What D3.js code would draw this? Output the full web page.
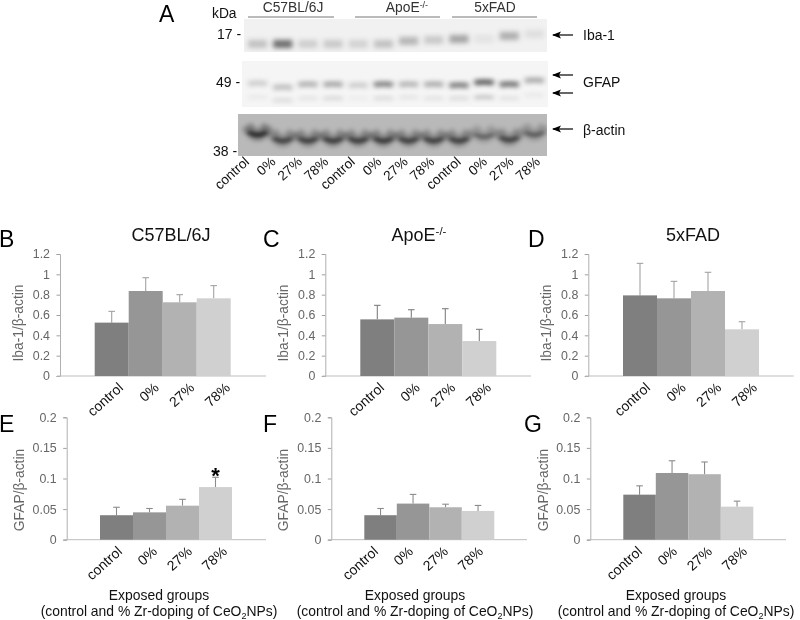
<!DOCTYPE html>
<html><head><meta charset="utf-8">
<script src="https://cdnjs.cloudflare.com/ajax/libs/d3/7.8.5/d3.min.js"></script>
<style>
html,body{margin:0;padding:0;background:#fff}
svg{display:block;font-family:"Liberation Sans",Arial,sans-serif;filter:blur(0.4px)}
</style></head><body>
<svg id="c" width="800" height="620"></svg>
<script>
// ---- data ----
const groups = ["control","0%","27%","78%"];
const ibaTicks = [0,0.2,0.4,0.6,0.8,1,1.2];
const gfapTicks = [0,0.05,0.1,0.15,0.2];

const ibaC57 = [0.525,0.836,0.725,0.764];
const ibaC57Err = [0.636,0.967,0.80,0.889];
const ibaApoE = [0.557,0.574,0.511,0.344];
const ibaApoEErr = [0.695,0.652,0.662,0.459];
const ibaFAD = [0.793,0.764,0.836,0.459];
const ibaFADErr = [1.108,0.931,1.02,0.534];

const gfapC57 = [0.040,0.0447,0.0556,0.086];
const gfapC57Err = [0.053,0.051,0.066,0.102];
const gfapApoE = [0.040,0.059,0.053,0.047];
const gfapApoEErr = [0.051,0.074,0.058,0.056];
const gfapFAD = [0.0736,0.109,0.107,0.054];
const gfapFADErr = [0.088,0.129,0.127,0.063];

// blot band intensities per lane (0 = no band, 1 = black)
const blotIba = [0.2,0.55,0.15,0.17,0.13,0.2,0.25,0.17,0.32,0.06,0.28,0.08];
const blotGfapUpper = [0.15,0.2,0.25,0.29,0.15,0.42,0.24,0.27,0.44,0.56,0.48,0.28];
const blotGfapLower = [0.05,0.11,0.07,0.12,0.04,0.11,0.07,0.08,0.11,0.2,0.08,0.05];
const blotActin = [0.95,0.75,0.78,0.8,0.8,0.82,0.78,0.78,0.78,0.5,0.75,0.55];
const laneLabels = ["control","0%","27%","78%","control","0%","27%","78%","control","0%","27%","78%"];
const strainLabels = ["C57BL/6J","ApoE","5xFAD"];

// ---- layout ----
const svg = d3.select("#c");
const greys = d3.scaleOrdinal(groups, ["#7f7f7f","#969696","#b2b2b2","#d0d0d0"]);
const defs = svg.append("defs");
function blurDef(id,sd){
  defs.append("filter").attr("id",id).attr("filterUnits","userSpaceOnUse")
    .attr("x",200).attr("y",0).attr("width",400).attr("height",180)
    .append("feGaussianBlur").attr("stdDeviation",sd);
}
blurDef("bIba","2.8 2.6");
blurDef("bGfap","2.4 1.9");
blurDef("bBroad","2.4 2.4");
blurDef("bCore","2 1.8");

const panels = [
 {id:"B",v:ibaC57,e:ibaC57Err,x0:60,b0:94.7,b1:230.7,end:266,top:254,bot:376,dom:1.2,t:ibaTicks,lab:"Iba-1/β-actin",lx:23,ly:323,err:"#a3a3a3",title:"C57BL/6J",tx:171,ends:[124,231]},
 {id:"C",v:ibaApoE,e:ibaApoEErr,x0:325.3,b0:360.3,b1:496.3,end:531,top:254,bot:376,dom:1.2,t:ibaTicks,lab:"Iba-1/β-actin",lx:288,ly:323,err:"#7f7f7f",title:"ApoE",sup:"-/-",tx:419,ends:[385,492]},
 {id:"D",v:ibaFAD,e:ibaFADErr,x0:588.3,b0:623,b1:759,end:793.7,top:254,bot:376,dom:1.2,t:ibaTicks,lab:"Iba-1/β-actin",lx:551,ly:323,err:"#a3a3a3",title:"5xFAD",tx:693,ends:[651,758]},
 {id:"E",v:gfapC57,e:gfapC57Err,x0:66.7,b0:100,b1:232,end:266,top:417.3,bot:539.7,dom:0.2,t:gfapTicks,lab:"GFAP/β-actin",lx:24,ly:490,err:"#8c8c8c",star:3,cx:159,ends:[123,228]},
 {id:"F",v:gfapApoE,e:gfapApoEErr,x0:331.3,b0:364.3,b1:494.3,end:527,top:417.3,bot:539.7,dom:0.2,t:gfapTicks,lab:"GFAP/β-actin",lx:288,ly:490,err:"#8c8c8c",cx:415,ends:[379,484]},
 {id:"G",v:gfapFAD,e:gfapFADErr,x0:590.3,b0:623.3,b1:753.3,end:786,top:417.3,bot:539.7,dom:0.2,t:gfapTicks,lab:"GFAP/β-actin",lx:548,ly:490,err:"#8c8c8c",cx:676,ends:[643,748]}
];
const letters = [["A",159,22],["B",-1,247],["C",263,247],["D",528,247],["E",-1,432],["F",263,432],["G",524,432]];

// ---- bar panels ----
panels.forEach(p=>{
  const g = svg.append("g");
  const y = d3.scaleLinear().domain([0,p.dom]).range([p.bot,p.top]);
  const x = d3.scaleBand().domain(groups).range([p.b0,p.b1]);
  const axis = g.append("g").attr("transform",`translate(${p.x0},0)`)
    .call(d3.axisLeft(y).tickValues(p.t).tickSize(3.5).tickPadding(6.5).tickFormat(d=>String(d)));
  axis.select(".domain").attr("stroke","#b0b0b0").attr("stroke-width",1);
  axis.selectAll(".tick line").attr("stroke","#a0a0a0");
  axis.selectAll("text").attr("font-size",12.4).attr("fill","#666").attr("font-family","inherit");
  g.append("line").attr("x1",p.x0-3).attr("x2",p.end).attr("y1",p.bot).attr("y2",p.bot).attr("stroke","#bdbdbd").attr("stroke-width",1);
  g.selectAll(".err").data(groups).join("g").each(function(d,i){
    const s=d3.select(this), cx=x(d)+x.bandwidth()/2;
    s.append("line").attr("x1",cx).attr("x2",cx).attr("y1",y(p.v[i])).attr("y2",y(p.e[i])).attr("stroke",p.err).attr("stroke-width",1.1);
    s.append("line").attr("x1",cx-3.3).attr("x2",cx+3.3).attr("y1",y(p.e[i])).attr("y2",y(p.e[i])).attr("stroke",p.err).attr("stroke-width",1.1);
  });
  g.selectAll("rect").data(groups).join("rect")
    .attr("x",d=>x(d)).attr("width",x.bandwidth())
    .attr("y",(d,i)=>y(p.v[i])).attr("height",(d,i)=>y(0)-y(p.v[i]))
    .attr("fill",d=>greys(d));
  const ends = d3.scalePoint().domain(groups).range(p.ends);
  g.selectAll(".xl").data(groups).join("text")
    .attr("transform",d=>`translate(${ends(d)},${p.bot+13}) rotate(-42)`)
    .attr("text-anchor","end").attr("font-size",14).attr("fill","#111").text(d=>d);
  g.append("text").attr("transform",`translate(${p.lx},${p.ly}) rotate(-90)`)
    .attr("text-anchor","middle").attr("font-size",13.8).attr("fill","#666").text(p.lab);
  if(p.title){
    const t=g.append("text").attr("x",p.tx).attr("y",241).attr("text-anchor","middle").attr("font-size",18).attr("fill","#111").text(p.title);
    if(p.sup) t.append("tspan").attr("dy",-6).attr("font-size",11.5).text(p.sup);
  }
  if(p.star!==undefined){
    const d=groups[p.star];
    g.append("text").attr("x",x(d)+x.bandwidth()/2).attr("y",y(p.e[p.star])-1).attr("dy",7).attr("text-anchor","middle")
      .attr("font-size",22).attr("font-weight","bold").attr("fill","#000").text("*");
  }
  if(p.cx){
    g.append("text").attr("x",p.cx).attr("y",600).attr("text-anchor","middle").attr("font-size",13.9).attr("fill","#111").text("Exposed groups");
    const t=g.append("text").attr("x",p.cx).attr("y",616).attr("text-anchor","middle").attr("font-size",13.9).attr("fill","#111").text("(control and % Zr-doping of CeO");
    t.append("tspan").attr("dy",3).attr("font-size",9).text("2");
    t.append("tspan").attr("dy",-3).text("NPs)");
  }
});
letters.forEach(([s,x,y])=>svg.append("text").attr("x",x).attr("y",y).attr("font-size",23).attr("fill","#000").text(s));

// ---- blot panel ----
const lane = d3.scaleBand().domain(d3.range(12)).range([245,547]);
const ibaY = [44,44,44,44,44,44,41,40,39,39,36,34];
const gfapY = [83,87,84,84,85,84,84,84,85,82,84,80];
const gfapLowY = [97,100,98,98,98,98,97,98,98,97,98,95];
const actinY = [135,141,141,141,141,141,141,141,141,137,140,135];

function blot(id,x0,x1,y0,y1,bg,rows){
  const clip="clip"+id;
  defs.append("clipPath").attr("id",clip).append("rect").attr("x",x0).attr("y",y0).attr("width",x1-x0).attr("height",y1-y0);
  const g=svg.append("g").attr("clip-path",`url(#${clip})`);
  g.append("rect").attr("x",x0).attr("y",y0).attr("width",x1-x0).attr("height",y1-y0).attr("fill",bg);
  rows.forEach(r=>{
    g.append("g").attr("filter",`url(#${r.f})`).selectAll("path").data(r.v).join("path")
      .attr("d",(d,i)=>{
        const c=lane(i)+lane.bandwidth()/2, w=lane.bandwidth()*r.w, yy=r.y[i];
        return `M${c-w},${yy-r.curve} Q${c},${yy+r.curve} ${c+w},${yy-r.curve}`;
      })
      .attr("fill","none").attr("stroke","#000").attr("stroke-width",r.sw)
      .attr("stroke-opacity",d=>d*(r.k||1));
  });
}
blot("i",244,547,19,52,"#f1f1f1",[{v:blotIba,y:ibaY,curve:0.3,sw:8,w:0.38,f:"bIba"}]);
blot("g",242,548,61,107,"#f5f5f5",[
  {v:blotGfapUpper,y:gfapY,curve:-0.8,sw:6,w:0.38,f:"bGfap"},
  {v:blotGfapLower,y:gfapLowY,curve:-0.5,sw:4,w:0.38,f:"bGfap"}]);
blot("a",238,547,114,156,"#b9b9b9",[
  {v:blotActin,y:actinY,curve:9,sw:11,w:0.42,k:0.42,f:"bBroad"},
  {v:blotActin,y:actinY,curve:3,sw:5,w:0.36,k:0.55,f:"bCore"}]);

const topT = (s,x,y,size,fill,anchor)=>svg.append("text").attr("x",x).attr("y",y).attr("font-size",size).attr("fill",fill||"#111").attr("text-anchor",anchor||"start").text(s);
topT("kDa",212,18,13.8);
topT("17 -",217,39,14);
topT("49 -",216,87,14);
topT("38 -",213,156,14);
const strainX=[293,407,495];
const strainLine=[[248,334],[355,440],[452,537]];
strainLabels.forEach((s,i)=>{
  const t=topT(s,strainX[i],12,13.8,"#333","middle");
  if(s==="ApoE") t.append("tspan").attr("dy",-4).attr("font-size",9).text("-/-");
  svg.append("line").attr("x1",strainLine[i][0]).attr("x2",strainLine[i][1]).attr("y1",17).attr("y2",17).attr("stroke","#666").attr("stroke-width",0.9);
});
const labelEnd = d3.scalePoint().domain(d3.range(12)).range([250,541]);
svg.selectAll(".ll").data(laneLabels).join("text")
  .attr("transform",(d,i)=>`translate(${labelEnd(i)},${163}) rotate(-42)`)
  .attr("text-anchor","end").attr("font-size",13.6).attr("fill","#111").text(d=>d);

[35,75,93,129].forEach(y=>{
  svg.append("line").attr("x1",573).attr("x2",553).attr("y1",y).attr("y2",y).attr("stroke","#000").attr("stroke-width",1.2);
  svg.append("path").attr("d",`M552,${y} L561,${y-3.5} L559,${y} L561,${y+3.5} Z`).attr("fill","#000");
});
topT("Iba-1",583,40,14);
topT("GFAP",583,87,14);
topT("β-actin",583,135,14);
</script>
</body></html>
